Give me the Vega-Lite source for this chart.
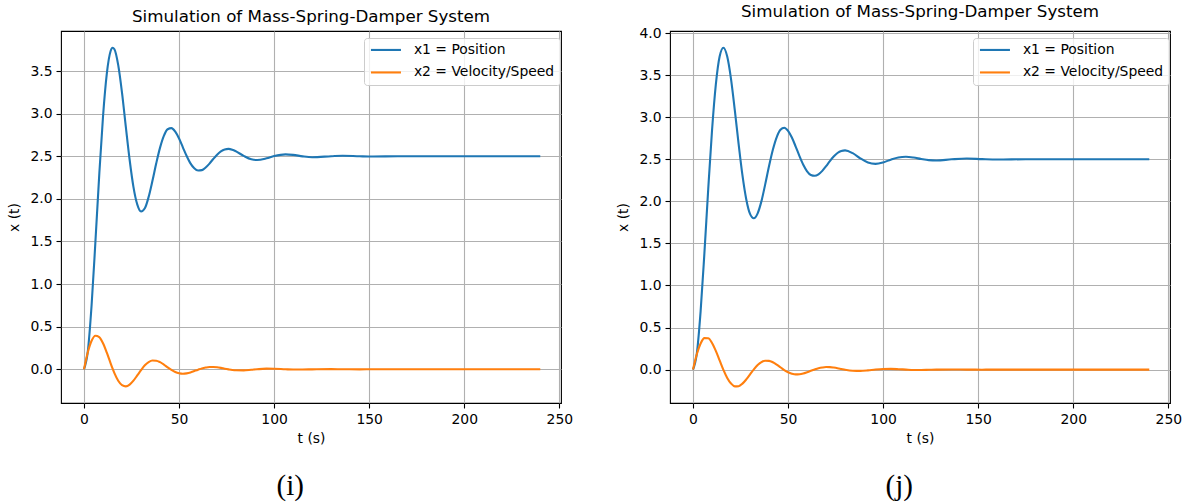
{
  "$schema": "https://vega.github.io/schema/vega-lite/v6.json",
  "padding": {"top": 3, "left": 7, "right": 5, "bottom": 0},
  "background": "white",
  "datasets": {
    "i": [
      {"t": 0, "x1": 0, "x2": 0},
      {"t": 2, "x1": 0.209, "x2": 0.199},
      {"t": 4, "x1": 0.754, "x2": 0.334},
      {"t": 6, "x1": 1.496, "x2": 0.393},
      {"t": 8, "x1": 2.276, "x2": 0.378},
      {"t": 10, "x1": 2.967, "x2": 0.305},
      {"t": 12, "x1": 3.47, "x2": 0.194},
      {"t": 14, "x1": 3.735, "x2": 0.07},
      {"t": 15, "x1": 3.774, "x2": 0.01},
      {"t": 16, "x1": 3.756, "x2": -0.046},
      {"t": 18, "x1": 3.569, "x2": -0.135},
      {"t": 20, "x1": 3.244, "x2": -0.187},
      {"t": 22, "x1": 2.845, "x2": -0.201},
      {"t": 24, "x1": 2.459, "x2": -0.18},
      {"t": 26, "x1": 2.141, "x2": -0.134},
      {"t": 28, "x1": 1.935, "x2": -0.073},
      {"t": 30, "x1": 1.852, "x2": -0.01},
      {"t": 32, "x1": 1.889, "x2": 0.046},
      {"t": 34, "x1": 2.023, "x2": 0.084},
      {"t": 36, "x1": 2.212, "x2": 0.102},
      {"t": 38, "x1": 2.417, "x2": 0.1},
      {"t": 40, "x1": 2.601, "x2": 0.083},
      {"t": 42, "x1": 2.739, "x2": 0.055},
      {"t": 44, "x1": 2.817, "x2": 0.022},
      {"t": 46, "x1": 2.83, "x2": -0.008},
      {"t": 48, "x1": 2.788, "x2": -0.032},
      {"t": 50, "x1": 2.708, "x2": -0.047},
      {"t": 52, "x1": 2.605, "x2": -0.053},
      {"t": 54, "x1": 2.503, "x2": -0.048},
      {"t": 56, "x1": 2.416, "x2": -0.037},
      {"t": 58, "x1": 2.358, "x2": -0.021},
      {"t": 60, "x1": 2.332, "x2": -0.005},
      {"t": 62, "x1": 2.337, "x2": 0.01},
      {"t": 64, "x1": 2.368, "x2": 0.02},
      {"t": 66, "x1": 2.414, "x2": 0.026},
      {"t": 68, "x1": 2.468, "x2": 0.026},
      {"t": 70, "x1": 2.518, "x2": 0.023},
      {"t": 72, "x1": 2.557, "x2": 0.016},
      {"t": 74, "x1": 2.58, "x2": 0.007},
      {"t": 76, "x1": 2.587, "x2": -0.001},
      {"t": 78, "x1": 2.577, "x2": -0.008},
      {"t": 80, "x1": 2.557, "x2": -0.012},
      {"t": 84, "x1": 2.504, "x2": -0.013},
      {"t": 88, "x1": 2.464, "x2": -0.006},
      {"t": 91, "x1": 2.456, "x2": 0.0},
      {"t": 96, "x1": 2.476, "x2": 0.007},
      {"t": 100, "x1": 2.502, "x2": 0.006},
      {"t": 106, "x1": 2.522, "x2": 0.0},
      {"t": 110, "x1": 2.516, "x2": -0.003},
      {"t": 115, "x1": 2.499, "x2": -0.003},
      {"t": 120, "x1": 2.489, "x2": -0.001},
      {"t": 130, "x1": 2.5, "x2": 0.002},
      {"t": 136, "x1": 2.506, "x2": 0.0},
      {"t": 145, "x1": 2.5, "x2": -0.001},
      {"t": 152, "x1": 2.497, "x2": 0.0},
      {"t": 165, "x1": 2.5, "x2": 0.0},
      {"t": 180, "x1": 2.5, "x2": 0.0},
      {"t": 200, "x1": 2.5, "x2": 0.0},
      {"t": 220, "x1": 2.5, "x2": 0.0},
      {"t": 240, "x1": 2.5, "x2": 0.0}
    ],
    "j": [
      {"t": 0, "x1": 0, "x2": 0},
      {"t": 2, "x1": 0.189, "x2": 0.182},
      {"t": 4, "x1": 0.691, "x2": 0.31},
      {"t": 6, "x1": 1.386, "x2": 0.374},
      {"t": 8, "x1": 2.142, "x2": 0.373},
      {"t": 10, "x1": 2.841, "x2": 0.317},
      {"t": 12, "x1": 3.386, "x2": 0.223},
      {"t": 14, "x1": 3.721, "x2": 0.11},
      {"t": 16, "x1": 3.825, "x2": -0.003},
      {"t": 18, "x1": 3.72, "x2": -0.099},
      {"t": 20, "x1": 3.453, "x2": -0.165},
      {"t": 22, "x1": 3.08, "x2": -0.199},
      {"t": 24, "x1": 2.679, "x2": -0.197},
      {"t": 26, "x1": 2.31, "x2": -0.167},
      {"t": 28, "x1": 2.025, "x2": -0.117},
      {"t": 30, "x1": 1.85, "x2": -0.057},
      {"t": 32, "x1": 1.798, "x2": 0.003},
      {"t": 34, "x1": 1.857, "x2": 0.054},
      {"t": 36, "x1": 2.002, "x2": 0.089},
      {"t": 38, "x1": 2.204, "x2": 0.106},
      {"t": 40, "x1": 2.42, "x2": 0.104},
      {"t": 42, "x1": 2.613, "x2": 0.087},
      {"t": 44, "x1": 2.761, "x2": 0.06},
      {"t": 46, "x1": 2.85, "x2": 0.028},
      {"t": 48, "x1": 2.875, "x2": -0.005},
      {"t": 50, "x1": 2.838, "x2": -0.031},
      {"t": 52, "x1": 2.758, "x2": -0.048},
      {"t": 54, "x1": 2.651, "x2": -0.057},
      {"t": 56, "x1": 2.537, "x2": -0.055},
      {"t": 58, "x1": 2.434, "x2": -0.046},
      {"t": 60, "x1": 2.357, "x2": -0.031},
      {"t": 62, "x1": 2.313, "x2": -0.014},
      {"t": 64, "x1": 2.303, "x2": 0.002},
      {"t": 66, "x1": 2.321, "x2": 0.016},
      {"t": 68, "x1": 2.362, "x2": 0.025},
      {"t": 70, "x1": 2.418, "x2": 0.03},
      {"t": 72, "x1": 2.478, "x2": 0.029},
      {"t": 74, "x1": 2.532, "x2": 0.024},
      {"t": 76, "x1": 2.574, "x2": 0.017},
      {"t": 78, "x1": 2.598, "x2": 0.008},
      {"t": 80, "x1": 2.605, "x2": -0.001},
      {"t": 84, "x1": 2.572, "x2": -0.013},
      {"t": 88, "x1": 2.511, "x2": -0.015},
      {"t": 92, "x1": 2.461, "x2": -0.009},
      {"t": 96, "x1": 2.445, "x2": 0.001},
      {"t": 100, "x1": 2.462, "x2": 0.007},
      {"t": 104, "x1": 2.495, "x2": 0.008},
      {"t": 108, "x1": 2.521, "x2": 0.005},
      {"t": 112, "x1": 2.529, "x2": 0.0},
      {"t": 116, "x1": 2.52, "x2": -0.004},
      {"t": 120, "x1": 2.503, "x2": -0.004},
      {"t": 124, "x1": 2.489, "x2": -0.002},
      {"t": 128, "x1": 2.485, "x2": 0.0},
      {"t": 136, "x1": 2.499, "x2": 0.002},
      {"t": 144, "x1": 2.508, "x2": 0.0},
      {"t": 152, "x1": 2.501, "x2": -0.001},
      {"t": 160, "x1": 2.496, "x2": 0.0},
      {"t": 175, "x1": 2.5, "x2": 0.0},
      {"t": 200, "x1": 2.5, "x2": 0.0},
      {"t": 220, "x1": 2.5, "x2": 0.0},
      {"t": 240, "x1": 2.5, "x2": 0.0}
    ]
  },
  "hconcat": [
    {
      "title": {"text": "(i)", "orient": "bottom", "anchor": "middle", "frame": "bounds", "font": "Liberation Serif", "fontSize": 29, "fontWeight": "normal", "color": "black", "offset": 26},
      "vconcat": [
        {
          "title": {"text": "Simulation of Mass-Spring-Damper System", "anchor": "middle", "frame": "group", "font": "DejaVu Sans", "fontSize": 16.7, "fontWeight": "normal", "color": "black", "offset": 5},
          "width": 500,
          "height": 372,
          "data": {"name": "i"},
          "transform": [{"fold": ["x1", "x2"], "as": ["s", "v"]}],
          "mark": {"type": "line", "interpolate": "monotone", "strokeWidth": 2.1, "clip": true},
          "encoding": {
            "x": {"field": "t", "type": "quantitative", "title": "t (s)",
                  "scale": {"domain": [-12.1, 250.9], "nice": false, "zero": false},
                  "axis": {"values": [0, 50, 100, 150, 200, 250], "format": "d"}},
            "y": {"field": "v", "type": "quantitative", "title": "x (t)",
                  "scale": {"domain": [-0.396, 3.97], "nice": false, "zero": false},
                  "axis": {"values": [0, 0.5, 1, 1.5, 2, 2.5, 3, 3.5], "format": ".1f"}},
            "color": {"field": "s", "type": "nominal",
                      "scale": {"domain": ["x1", "x2"], "range": ["#1f77b4", "#ff7f0e"]},
                      "legend": {"labelExpr": "datum.label == 'x1' ? 'x1 = Position' : 'x2 = Velocity/Speed'"}}
          }
        }
      ],
      "resolve": {"scale": {"color": "independent", "x": "independent", "y": "independent"}, "legend": {"color": "independent"}}
    },
    {
      "title": {"text": "(j)", "orient": "bottom", "anchor": "middle", "frame": "bounds", "font": "Liberation Serif", "fontSize": 29, "fontWeight": "normal", "color": "black", "offset": 26},
      "vconcat": [
        {
          "title": {"text": "Simulation of Mass-Spring-Damper System", "anchor": "middle", "frame": "group", "font": "DejaVu Sans", "fontSize": 16.7, "fontWeight": "normal", "color": "black", "offset": 5},
          "width": 500,
          "height": 372,
          "data": {"name": "j"},
          "transform": [{"fold": ["x1", "x2"], "as": ["s", "v"]}],
          "mark": {"type": "line", "interpolate": "monotone", "strokeWidth": 2.1, "clip": true},
          "encoding": {
            "x": {"field": "t", "type": "quantitative", "title": "t (s)",
                  "scale": {"domain": [-12.1, 250.9], "nice": false, "zero": false},
                  "axis": {"values": [0, 50, 100, 150, 200, 250], "format": "d"}},
            "y": {"field": "v", "type": "quantitative", "title": "x (t)",
                  "scale": {"domain": [-0.397, 4.024], "nice": false, "zero": false},
                  "axis": {"values": [0, 0.5, 1, 1.5, 2, 2.5, 3, 3.5, 4], "format": ".1f"}},
            "color": {"field": "s", "type": "nominal",
                      "scale": {"domain": ["x1", "x2"], "range": ["#1f77b4", "#ff7f0e"]},
                      "legend": {"labelExpr": "datum.label == 'x1' ? 'x1 = Position' : 'x2 = Velocity/Speed'"}}
          }
        }
      ],
      "resolve": {"scale": {"color": "independent", "x": "independent", "y": "independent"}, "legend": {"color": "independent"}}
    }
  ],
  "spacing": 42,
  "resolve": {"scale": {"color": "independent", "x": "independent", "y": "independent"}, "legend": {"color": "independent"}},
  "config": {
    "font": "DejaVu Sans",
    "view": {"stroke": "black", "strokeWidth": 1.1},
    "axis": {
      "domain": false,
      "grid": true,
      "gridColor": "#b0b0b0",
      "gridWidth": 1.1,
      "gridOpacity": 1,
      "ticks": true,
      "tickColor": "black",
      "tickWidth": 1.1,
      "tickSize": 5,
      "labelFont": "DejaVu Sans",
      "labelFontSize": 13.9,
      "labelColor": "black",
      "labelPadding": 4,
      "titleFont": "DejaVu Sans",
      "titleFontSize": 13.9,
      "titleFontWeight": "normal",
      "titleColor": "black"
    },
    "axisX": {"titlePadding": 6, "labelFlush": false},
    "axisY": {"titlePadding": 8, "labelFlush": false},
    "legend": {
      "orient": "none",
      "legendX": 303,
      "legendY": 7,
      "title": null,
      "fillColor": "rgba(255,255,255,0.8)",
      "strokeColor": "#cccccc",
      "cornerRadius": 3,
      "padding": 5,
      "symbolType": "M-3,0H3",
      "symbolSize": 100,
      "symbolOffset": 10,
      "symbolStrokeWidth": 2.1,
      "labelFont": "DejaVu Sans",
      "labelFontSize": 13.9,
      "labelColor": "black",
      "labelOffset": 21,
      "rowPadding": 7.5
    }
  }
}
